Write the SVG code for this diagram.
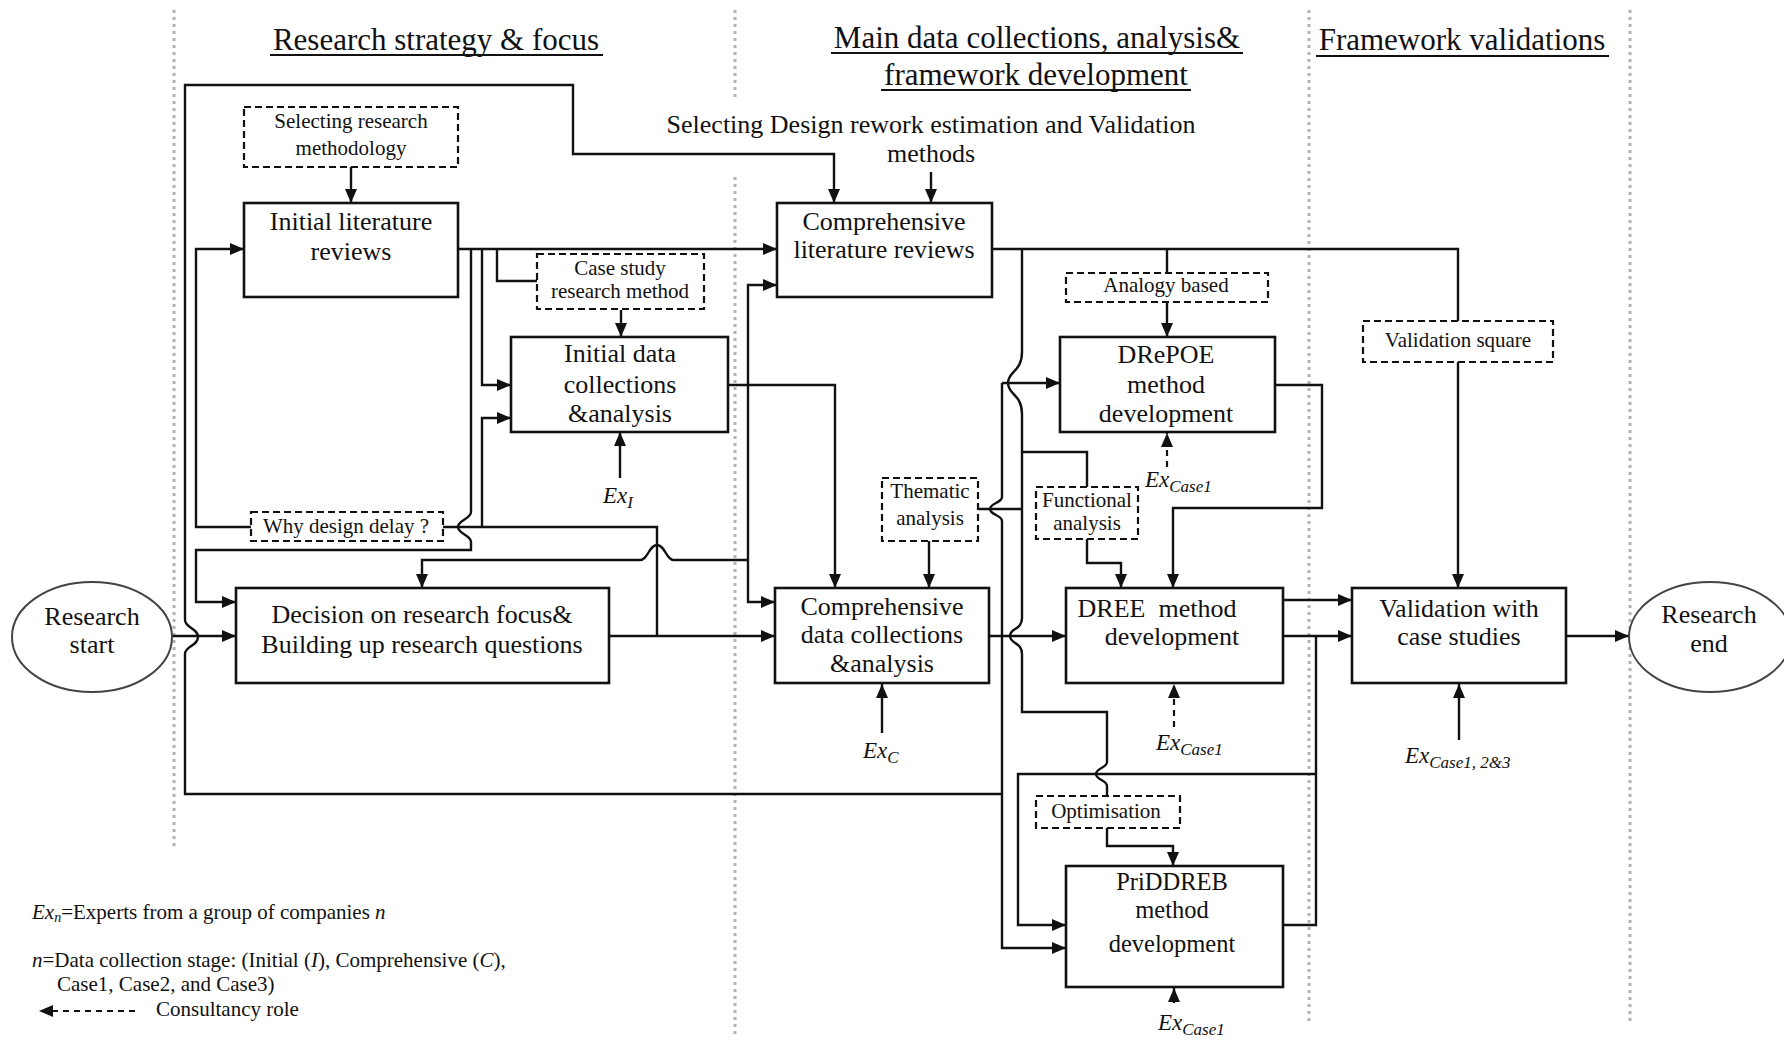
<svg xmlns="http://www.w3.org/2000/svg" width="1784" height="1041" viewBox="0 0 1784 1041">
<defs>
<style>
.sep{fill:none;stroke:#b3b3b3;stroke-width:3;stroke-dasharray:3 4}
.ln{fill:none;stroke:#111;stroke-width:2.4;marker-end:none}
.ar{marker-end:url(#ah)}
.lnd{fill:none;stroke:#111;stroke-width:2.2;stroke-dasharray:6 5}
.box{fill:#fff;stroke:#111;stroke-width:2.6}
.dbox{fill:#fff;stroke:#111;stroke-width:2.2;stroke-dasharray:7 4}
.oval{fill:#fff;stroke:#444;stroke-width:2}
.ul{stroke:#111;stroke-width:2}
text{font-family:"Liberation Serif","Times New Roman",serif;fill:#111}
.hd{font-size:31px;text-anchor:middle}
.nt{font-size:26px;text-anchor:middle}
.nts{font-size:24.5px;text-anchor:middle}
.dt{font-size:21px;text-anchor:middle}
.ex{font-size:23px;font-style:italic}
.sub{font-size:17px}
.lg{font-size:21px}
.it{font-style:italic}
</style>
<marker id="ah" viewBox="0 0 14 12" refX="14" refY="6" markerWidth="14" markerHeight="12" markerUnits="userSpaceOnUse" orient="auto">
<path d="M0,0 L14,6 L0,12 z" fill="#111"/>
</marker>
</defs>
<rect width="1784" height="1041" fill="#fff"/>

<!-- phase separators -->
<g id="separators">
<line class="sep" x1="174" y1="10" x2="174" y2="848"/>
<line class="sep" x1="735" y1="10" x2="735" y2="97"/>
<line class="sep" x1="735" y1="177" x2="735" y2="1035"/>
<line class="sep" x1="1309" y1="10" x2="1309" y2="1025"/>
<line class="sep" x1="1630" y1="10" x2="1630" y2="1025"/>
</g>

<!-- phase headings -->
<g id="headings">
<text class="hd" x="436" y="50">Research strategy &amp; focus</text>
<line class="ul" x1="270" y1="55" x2="603" y2="55"/>
<text class="hd" x="1037" y="48">Main data collections, analysis&amp;</text>
<line class="ul" x1="831" y1="53" x2="1243" y2="53"/>
<text class="hd" x="1036" y="85">framework development</text>
<line class="ul" x1="881" y1="90" x2="1191" y2="90"/>
<text class="hd" x="1462" y="50">Framework validations</text>
<line class="ul" x1="1316" y1="56" x2="1609" y2="56"/>
<text class="nt" x="931" y="133">Selecting Design rework estimation and Validation</text>
<text class="nt" x="931" y="162">methods</text>
</g>

<!-- connectors -->
<g id="connectors">
<path class="ln ar" d="M1002,794 H185 V654 C185,646 198,646 198,637 C198,628 185,628 185,620 V85 H573 V154 H834 V203"/>
<path class="ln ar" d="M458,249 H777"/>
<path class="ln ar" d="M471,249 V512 C471,519 458,520 458,527 C458,534 471,535 471,542 V550 H196 V602 H236"/>
<path class="ln ar" d="M482,249 V385 H511"/>
<path class="ln" d="M497,249 V281 H537"/>
<path class="ln ar" d="M251,527 H196 V249 H244"/>
<path class="ln ar" d="M609,636 H775"/>
<path class="ln" d="M657,636 V527 H443"/>
<path class="ln ar" d="M482,527 V418 H511"/>
<path class="ln ar" d="M351,167 V203"/>
<path class="ln ar" d="M621,310 V337"/>
<path class="ln ar" d="M620,478 V432"/>
<path class="ln ar" d="M728,385 H835 V588"/>
<path class="ln ar" d="M748,560 V285 H777"/>
<path class="ln ar" d="M748,560 V602 H775"/>
<path class="ln ar" d="M748,560 H674 C666,560 665,545 657,545 C649,545 648,560 640,560 H422 V588"/>
<path class="ln ar" d="M931,172 V203"/>
<path class="ln" d="M992,249 H1458 V321"/>
<path class="ln" d="M1167,249 V273"/>
<path class="ln" d="M1022,249 V352 C1022,372 1008,371 1008,383 C1008,395 1022,394 1022,414 V618 C1022,630 1010,628 1010,636 C1010,644 1022,642 1022,654 V712 H1107 V762 C1107,768 1096,768 1096,774 C1096,780 1107,780 1107,786 V796"/>
<path class="ln" d="M1022,452 H1087 V487"/>
<path class="ln" d="M978,509 H1022"/>
<path class="ln ar" d="M1002,383 H1060"/>
<path class="ln ar" d="M1002,383 V497 C1002,503 990,503 990,509 C990,515 1002,515 1002,521 V948 H1066"/>
<path class="ln ar" d="M989,636 H1066"/>
<path class="ln ar" d="M929,541 V588"/>
<path class="ln ar" d="M882,733 V684"/>
<path class="ln ar" d="M1167,302 V337"/>
<path class="lnd ar" d="M1167,467 V433"/>
<path class="ln ar" d="M1275,385 H1322 V508 H1173 V588"/>
<path class="ln ar" d="M1087,539 V563 H1121 V588"/>
<path class="ln ar" d="M1283,600 H1352"/>
<path class="ln ar" d="M1283,636 H1352"/>
<path class="ln" d="M1316,636 V925 H1283"/>
<path class="ln ar" d="M1316,774 H1018 V925 H1066"/>
<path class="lnd ar" d="M1174,727 V684"/>
<path class="ln ar" d="M1458,362 V588"/>
<path class="ln ar" d="M1459,740 V684"/>
<path class="ln ar" d="M1566,636 H1629"/>
<path class="ln ar" d="M172,636 H236"/>
<path class="ln ar" d="M1107,828 V846 H1173 V866"/>
<path class="ln ar" d="M1174,1003 V988"/>
</g>

<!-- nodes -->
<g id="n-select-methodology">
<rect class="dbox" x="244" y="107" width="214" height="60"/>
<text class="dt" x="351" y="128">Selecting research</text>
<text class="dt" x="351" y="155">methodology</text>
</g>
<g id="n-initial-literature">
<rect class="box" x="244" y="203" width="214" height="94"/>
<text class="nt" x="351" y="230">Initial literature</text>
<text class="nt" x="351" y="260">reviews</text>
</g>
<g id="n-case-study">
<rect class="dbox" x="537" y="254" width="167" height="55"/>
<text class="dt" x="620" y="275">Case study</text>
<text class="dt" x="620" y="298">research method</text>
</g>
<g id="n-initial-data">
<rect class="box" x="511" y="337" width="217" height="95"/>
<text class="nt" x="620" y="362">Initial data</text>
<text class="nt" x="620" y="393">collections</text>
<text class="nt" x="620" y="422">&amp;analysis</text>
</g>
<g id="n-why-delay">
<rect class="dbox" x="251" y="512" width="192" height="29"/>
<text class="dt" x="346" y="533">Why design delay ?</text>
</g>
<g id="n-decision">
<rect class="box" x="236" y="588" width="373" height="95"/>
<text class="nt" x="422" y="623">Decision on research focus&amp;</text>
<text class="nt" x="422" y="653">Building up research questions</text>
</g>
<g id="n-start">
<ellipse class="oval" cx="92" cy="637" rx="80" ry="55"/>
<text class="nt" x="92" y="625">Research</text>
<text class="nt" x="92" y="653">start</text>
</g>
<g id="n-comp-literature">
<rect class="box" x="777" y="203" width="215" height="94"/>
<text class="nt" x="884" y="230">Comprehensive</text>
<text class="nt" x="884" y="258">literature reviews</text>
</g>
<g id="n-thematic">
<rect class="dbox" x="882" y="478" width="96" height="63"/>
<text class="dt" x="930" y="498">Thematic</text>
<text class="dt" x="930" y="525">analysis</text>
</g>
<g id="n-comp-data">
<rect class="box" x="775" y="588" width="214" height="95"/>
<text class="nt" x="882" y="615">Comprehensive</text>
<text class="nt" x="882" y="643">data collections</text>
<text class="nt" x="882" y="672">&amp;analysis</text>
</g>
<g id="n-analogy">
<rect class="dbox" x="1066" y="273" width="202" height="29"/>
<text class="dt" x="1166" y="292">Analogy based</text>
</g>
<g id="n-drepoe">
<rect class="box" x="1060" y="337" width="215" height="95"/>
<text class="nt" x="1166" y="363">DRePOE</text>
<text class="nt" x="1166" y="393">method</text>
<text class="nt" x="1166" y="422">development</text>
</g>
<g id="n-functional">
<rect class="dbox" x="1036" y="487" width="102" height="52"/>
<text class="dt" x="1087" y="507">Functional</text>
<text class="dt" x="1087" y="530">analysis</text>
</g>
<g id="n-dree">
<rect class="box" x="1066" y="588" width="217" height="95"/>
<text class="nt" x="1157" y="617">DREE&#160; method</text>
<text class="nt" x="1172" y="645">development</text>
</g>
<g id="n-optimisation">
<rect class="dbox" x="1036" y="796" width="144" height="32"/>
<text class="dt" x="1106" y="818">Optimisation</text>
</g>
<g id="n-priddreb">
<rect class="box" x="1066" y="866" width="217" height="121"/>
<text class="nts" x="1172" y="890">PriDDREB</text>
<text class="nts" x="1172" y="918">method</text>
<text class="nts" x="1172" y="952">development</text>
</g>
<g id="n-validation-square">
<rect class="dbox" x="1363" y="321" width="190" height="41"/>
<text class="dt" x="1458" y="347">Validation square</text>
</g>
<g id="n-validation">
<rect class="box" x="1352" y="588" width="214" height="95"/>
<text class="nt" x="1459" y="617">Validation with</text>
<text class="nt" x="1459" y="645">case studies</text>
</g>
<g id="n-end">
<ellipse class="oval" cx="1710" cy="637" rx="81" ry="55"/>
<text class="nt" x="1709" y="623">Research</text>
<text class="nt" x="1709" y="652">end</text>
</g>

<!-- expert groups -->
<g id="experts">
<text class="ex" x="603" y="503">Ex<tspan class="sub" dy="5">I</tspan></text>
<text class="ex" x="863" y="758">Ex<tspan class="sub" dy="5">C</tspan></text>
<text class="ex" x="1145" y="487">Ex<tspan class="sub" dy="5">Case1</tspan></text>
<text class="ex" x="1156" y="750">Ex<tspan class="sub" dy="5">Case1</tspan></text>
<text class="ex" x="1158" y="1030">Ex<tspan class="sub" dy="5">Case1</tspan></text>
<text class="ex" x="1405" y="763">Ex<tspan class="sub" dy="5">Case1, 2&amp;3</tspan></text>
</g>

<!-- legend -->
<g id="legend">
<text class="lg" x="32" y="919"><tspan class="it">Ex</tspan><tspan class="it" font-size="14" dy="3">n</tspan><tspan dy="-3">=Experts from a group of companies </tspan><tspan class="it">n</tspan></text>
<text class="lg" x="32" y="967"><tspan class="it">n</tspan>=Data collection stage: (Initial (<tspan class="it">I</tspan>), Comprehensive (<tspan class="it">C</tspan>),</text>
<text class="lg" x="57" y="991">Case1, Case2, and Case3)</text>
<path class="lnd ar" d="M135,1011 H39"/>
<text class="lg" x="156" y="1016">Consultancy role</text>
</g>
</svg>
